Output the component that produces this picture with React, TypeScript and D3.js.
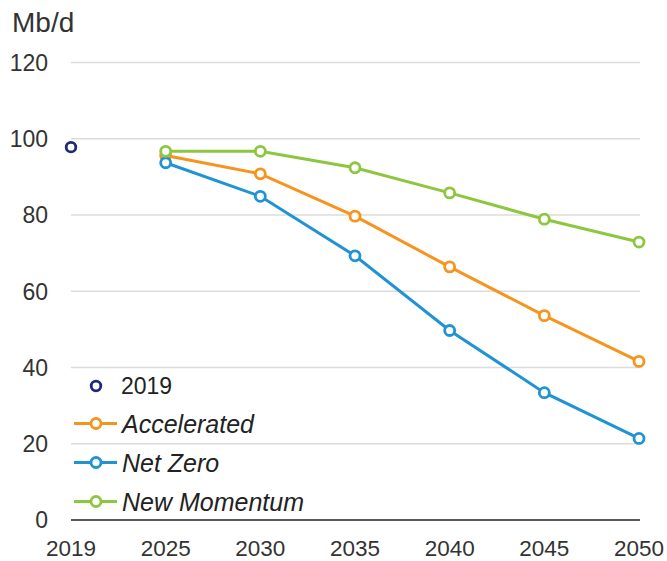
import React from "react";
import * as d3 from "d3";

const years = ["2019", "2025", "2030", "2035", "2040", "2045", "2050"];
const historic2019 = 97.8;
const acceleratedValues = [95.6, 90.8, 79.7, 66.4, 53.6, 41.6];
const netZeroValues = [93.7, 84.9, 69.3, 49.7, 33.4, 21.4];
const newMomentumValues = [96.7, 96.7, 92.4, 85.8, 78.9, 72.9];
const scenarioYears = ["2025", "2030", "2035", "2040", "2045", "2050"];
const yTicks = [0, 20, 40, 60, 80, 100, 120];

const series = [
  { name: "Accelerated", color: "#f7941d", values: acceleratedValues },
  { name: "Net Zero", color: "#1f93d3", values: netZeroValues },
  { name: "New Momentum", color: "#8dc63f", values: newMomentumValues },
];

const W = 667;
const H = 561;
const FONT = "'Liberation Sans', Arial, sans-serif";

export default function App() {
  const x = d3.scalePoint<string>().domain(years).range([71, 639]).padding(0);
  const y = d3.scaleLinear().domain([0, 120]).range([520, 62.5]);
  const line = d3
    .line<[string, number]>()
    .x((d) => x(d[0]) as number)
    .y((d) => y(d[1]));

  return (
    <svg
      width={W}
      height={H}
      style={{ position: "absolute", left: 0, top: 0, background: "#fff" }}
      fontFamily={FONT}
    >
      <text x={12} y={32} fontSize={28} fill="#333">
        Mb/d
      </text>
      {yTicks.map((t) => (
        <g key={t}>
          {t > 0 && (
            <line x1={71} x2={640} y1={y(t)} y2={y(t)} stroke="#dcdcdc" strokeWidth={1.5} />
          )}
          <text x={48} y={y(t)} dy="0.36em" textAnchor="end" fontSize={23} fill="#333">
            {t}
          </text>
        </g>
      ))}
      <line x1={71} x2={640} y1={y(0)} y2={y(0)} stroke="#222" strokeWidth={1.5} />
      {years.map((yr) => (
        <text key={yr} x={x(yr)} y={555.5} textAnchor="middle" fontSize={22.5} fill="#333">
          {yr}
        </text>
      ))}
      {series.map((s) => {
        const pts: [string, number][] = scenarioYears.map((yr, i) => [yr, s.values[i]]);
        return (
          <g key={s.name}>
            <path d={line(pts) || ""} fill="none" stroke={s.color} strokeWidth={3} />
            {pts.map((p) => (
              <circle
                key={p[0]}
                cx={x(p[0])}
                cy={y(p[1])}
                r={5}
                fill="#fff"
                stroke={s.color}
                strokeWidth={2.8}
              />
            ))}
          </g>
        );
      })}
      <circle cx={x("2019")} cy={y(historic2019)} r={4.8} fill="#fff" stroke="#1d2a78" strokeWidth={2.8} />

      {/* legend */}
      <circle cx={96} cy={386} r={4.8} fill="#fff" stroke="#1d2a78" strokeWidth={2.8} />
      <text x={121} y={386} dy="0.36em" fontSize={23} fill="#222">
        2019
      </text>
      {series.map((s, i) => {
        const ly = 423.5 + i * 39;
        return (
          <g key={s.name}>
            <line x1={74} x2={117} y1={ly} y2={ly} stroke={s.color} strokeWidth={3} />
            <circle cx={96} cy={ly} r={5} fill="#fff" stroke={s.color} strokeWidth={2.8} />
            <text x={122} y={ly} dy="0.36em" fontSize={25} fontStyle="italic" fill="#222">
              {s.name}
            </text>
          </g>
        );
      })}
    </svg>
  );
}
